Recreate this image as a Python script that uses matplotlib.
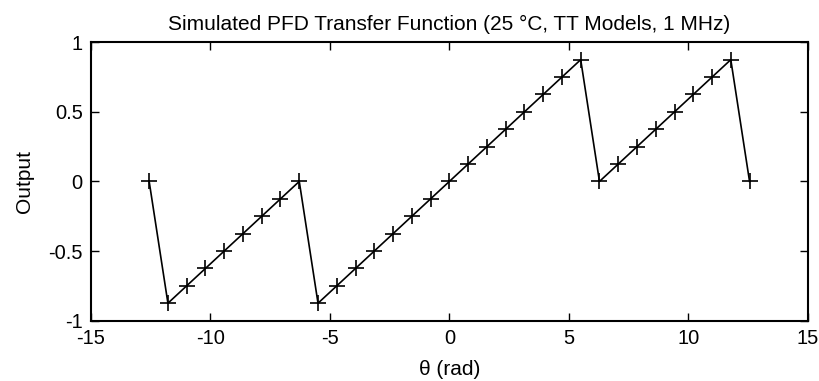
import matplotlib
matplotlib.use("Agg")
import matplotlib.pyplot as plt

theta = [-12.566, -11.781, -10.996, -10.210, -9.425, -8.639, -7.854, -7.069, -6.283,
         -5.498, -4.712, -3.927, -3.142, -2.356, -1.571, -0.785, 0.0, 0.785, 1.571,
         2.356, 3.142, 3.927, 4.712, 5.498, 6.283, 7.069, 7.854, 8.639, 9.425,
         10.210, 10.996, 11.781, 12.566]
output = [0.0, -0.875, -0.75, -0.625, -0.5, -0.375, -0.25, -0.125, 0.0,
          -0.875, -0.75, -0.625, -0.5, -0.375, -0.25, -0.125, 0.0, 0.125, 0.25,
          0.375, 0.5, 0.625, 0.75, 0.875, 0.0, 0.125, 0.25, 0.375, 0.5,
          0.625, 0.75, 0.875, 0.0]
xticks = [-15, -10, -5, 0, 5, 10, 15]
yticks = [-1, -0.5, 0, 0.5, 1]
ytick_labels = ['-1', '-0.5', '0', '0.5', '1']

plt.rcParams['font.family'] = ['Liberation Sans', 'DejaVu Sans']
fig = plt.figure(figsize=(8.2, 3.81), dpi=100)
ax = fig.add_axes([0.111, 0.1585, 0.874, 0.7305])
ax.plot(theta, output, color='black', linewidth=1.2, marker='+', markersize=11, markeredgewidth=1.2)
ax.set_xlim(-15, 15)
ax.set_ylim(-1, 1)
ax.set_xticks(xticks)
ax.set_yticks(yticks)
ax.set_xticklabels([str(t) for t in xticks])
ax.set_yticklabels(ytick_labels)
ax.tick_params(direction='in', length=6, labelsize=14.5, top=True, right=True, width=1, pad=6)
for s in ax.spines.values():
    s.set_linewidth(1.5)
ax.set_xlabel('θ (rad)', fontsize=15, labelpad=9)
ax.set_ylabel('Output', fontsize=15, labelpad=10)
ax.set_title('Simulated PFD Transfer Function (25 °C, TT Models, 1 MHz)', fontsize=15, pad=8.5)
fig.savefig('out.png', dpi=100)
